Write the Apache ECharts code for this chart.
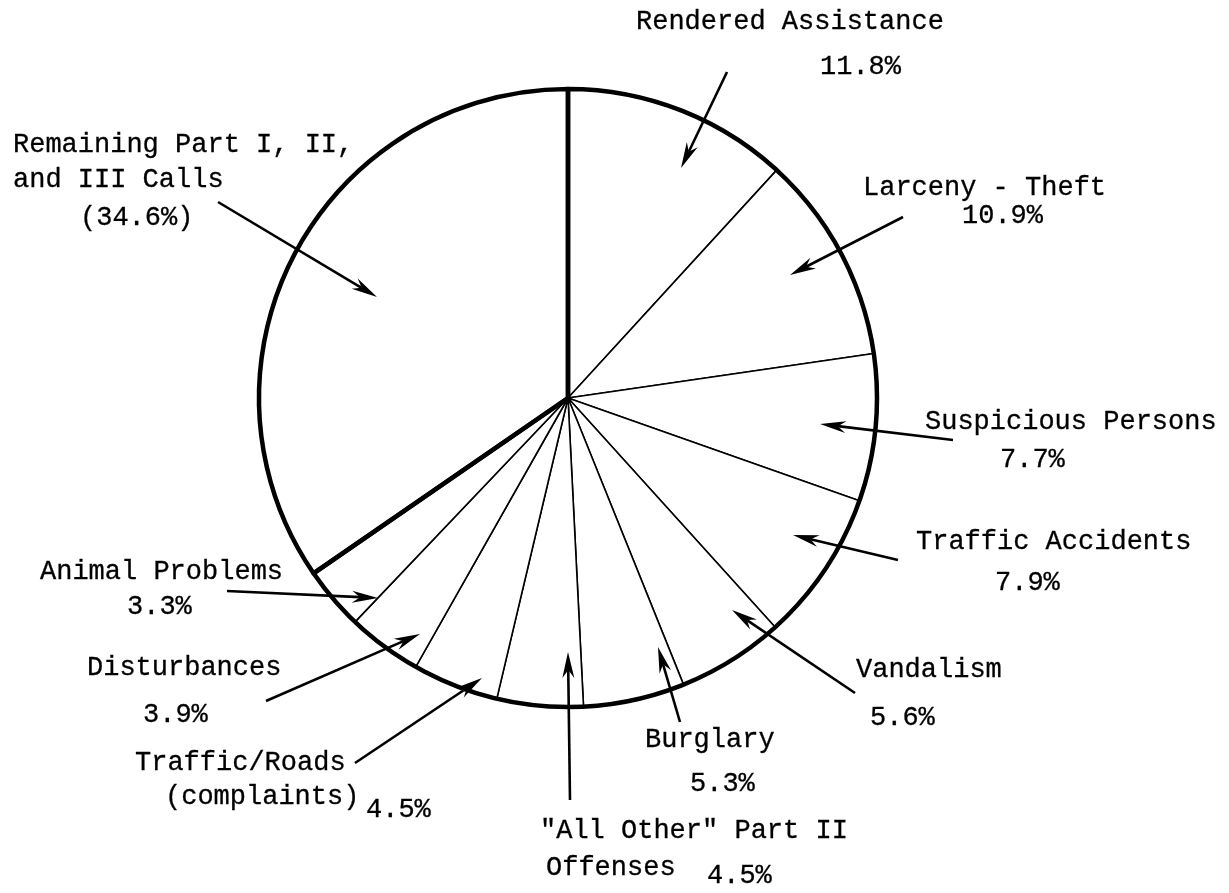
<!DOCTYPE html>
<html>
<head>
<meta charset="utf-8">
<title>Calls for service</title>
<script src="https://cdn.jsdelivr.net/npm/echarts@6/dist/echarts.min.js"></script>
<style>
  html, body { margin: 0; padding: 0; background: #fff; }
  #pieCharts { width: 1229px; height: 893px; }
</style>
</head>
<body>
<div id="pieCharts"></div>
<script>
// categories, clockwise from 12 o'clock
var categories = [
  'Rendered Assistance', 'Larceny - Theft', 'Suspicious Persons', 'Traffic Accidents',
  'Vandalism', 'Burglary', '"All Other" Part II Offenses', 'Traffic/Roads (complaints)',
  'Disturbances', 'Animal Problems', 'Remaining Part I, II, and III Calls'
];
var percents = [11.8, 10.9, 7.7, 7.9, 5.6, 5.3, 4.5, 4.5, 3.9, 3.3, 34.6];
var pctLabels = ['11.8%', '10.9%', '7.7%', '7.9%', '5.6%', '5.3%', '4.5%', '4.5%', '3.9%', '3.3%', '(34.6%)'];

var FONT = '27px "Liberation Mono", "DejaVu Sans Mono", monospace';

/*饼图*/
var myChart = echarts.init(document.getElementById('pieCharts'));

var sliceData = categories.map(function (c, i) {
  return { name: c, value: percents[i] };
});
// thick outline: the big "remaining" slice vs everything else
var restSum = 0;
for (var i = 0; i < percents.length - 1; i++) restSum += percents[i];
var outlineData = [
  { name: 'listed', value: +restSum.toFixed(1) },
  { name: categories[categories.length - 1], value: percents[percents.length - 1] }
];

function txt(s, x, y) {
  return {
    type: 'text', x: x, y: y, z: 100, silent: true,
    style: { text: s, font: FONT, fill: '#000', stroke: '#000', lineWidth: 0.3, verticalAlign: 'middle' }
  };
}
function arrow(x1, y1, x2, y2) {
  var dx = x2 - x1, dy = y2 - y1, len = Math.sqrt(dx * dx + dy * dy);
  var ux = dx / len, uy = dy / len, hl = 26, hw = 6;
  var bx = x2 - ux * hl, by = y2 - uy * hl;
  return [{
    type: 'line', z: 100, silent: true,
    shape: { x1: x1, y1: y1, x2: bx + ux * 8, y2: by + uy * 8 },
    style: { stroke: '#000', lineWidth: 2.6 }
  }, {
    type: 'polygon', z: 100, silent: true,
    shape: { points: [[x2, y2], [bx - uy * hw, by + ux * hw], [bx + ux * 8, by + uy * 8], [bx + uy * hw, by - ux * hw]] },
    style: { fill: '#000' }
  }];
}

var graphics = [
  txt('Rendered Assistance', 636, 22), txt(pctLabels[0], 820, 67),
  txt('Larceny - Theft', 863, 188), txt(pctLabels[1], 962, 216),
  txt('Suspicious Persons', 925, 422), txt(pctLabels[2], 1000, 460),
  txt('Traffic Accidents', 916, 542), txt(pctLabels[3], 995, 583),
  txt('Vandalism', 856, 670), txt(pctLabels[4], 870, 718),
  txt('Burglary', 645, 740), txt(pctLabels[5], 690, 784),
  txt('"All Other" Part II', 540, 831), txt('Offenses', 546, 868), txt(pctLabels[6], 707, 876),
  txt('Traffic/Roads', 135, 763), txt('(complaints)', 165, 797), txt(pctLabels[7], 366, 810),
  txt('Disturbances', 87, 668), txt(pctLabels[8], 143, 715),
  txt('Animal Problems', 40, 572), txt(pctLabels[9], 127, 607),
  txt('Remaining Part I, II,', 13, 145), txt('and III Calls', 13, 180), txt(pctLabels[10], 80, 218)
]
  .concat(arrow(727, 72, 681, 168))
  .concat(arrow(903, 217, 790, 275))
  .concat(arrow(218, 202, 377, 297))
  .concat(arrow(953, 440, 820, 424))
  .concat(arrow(898, 560, 793, 535))
  .concat(arrow(855, 693, 732, 610))
  .concat(arrow(680, 722, 658, 647))
  .concat(arrow(570, 800, 568, 652))
  .concat(arrow(355, 763, 482, 678))
  .concat(arrow(266, 701, 420, 634))
  .concat(arrow(227, 591, 378, 598));

var option = {
  backgroundColor: '#fff',
  animation: false,
  series: [{
    type: 'pie',
    center: [568, 398],
    radius: [0, 309],
    startAngle: 90,
    clockwise: true,
    silent: true,
    label: { show: false },
    labelLine: { show: false },
    itemStyle: { color: '#fff', borderColor: '#000', borderWidth: 1.6 },
    data: sliceData
  }, {
    type: 'pie',
    center: [568, 398],
    radius: [0, 309],
    startAngle: 90,
    clockwise: true,
    silent: true,
    z: 3,
    label: { show: false },
    labelLine: { show: false },
    itemStyle: { color: 'rgba(0,0,0,0)', borderColor: '#000', borderWidth: 4.5 },
    data: outlineData
  }],
  graphic: graphics
};
myChart.setOption(option);
</script>
</body>
</html>
